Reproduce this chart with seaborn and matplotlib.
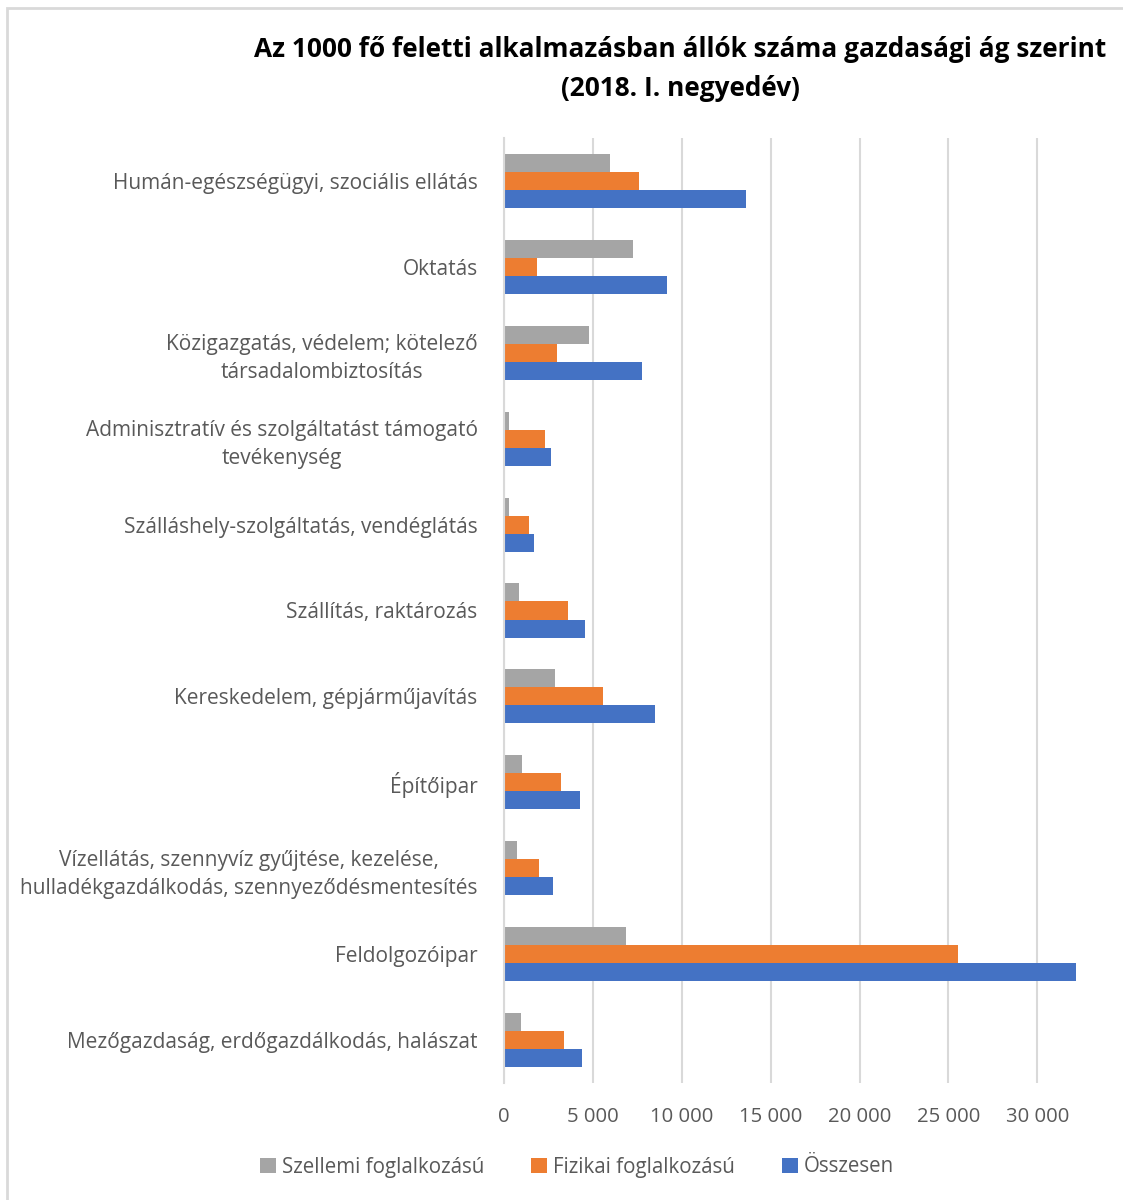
import matplotlib
matplotlib.use("Agg")
import matplotlib.pyplot as plt
import seaborn as sns
import pandas as pd
from matplotlib.patches import Rectangle, Patch

categories = [
    "Humán-egészségügyi, szociális ellátás",
    "Oktatás",
    "Közigazgatás, védelem; kötelező\ntársadalombiztosítás",
    "Adminisztratív és szolgáltatást támogató\ntevékenység",
    "Szálláshely-szolgáltatás, vendéglátás",
    "Szállítás, raktározás",
    "Kereskedelem, gépjárműjavítás",
    "Építőipar",
    "Vízellátás, szennyvíz gyűjtése, kezelése,\nhulladékgazdálkodás, szennyeződésmentesítés",
    "Feldolgozóipar",
    "Mezőgazdaság, erdőgazdálkodás, halászat",
]
szellemi = [5970, 7230, 4790, 260, 260, 860, 2890, 1000, 710, 6850, 960]
fizikai = [7570, 1880, 2970, 2310, 1410, 3610, 5560, 3230, 1970, 25540, 3360]
osszesen = [13620, 9150, 7790, 2630, 1710, 4540, 8490, 4280, 2740, 32170, 4360]
series_names = ["Szellemi foglalkozású", "Fizikai foglalkozású", "Összesen"]
colors = ["#A5A5A5", "#ED7D31", "#4472C4"]
xticks = [0, 5000, 10000, 15000, 20000, 25000, 30000]
xtick_labels = ["0", "5 000", "10 000", "15 000", "20 000", "25 000", "30 000"]

rows = []
for vals, name in zip([szellemi, fizikai, osszesen], series_names):
    for c, v in zip(categories, vals):
        rows.append({"cat": c, "series": name, "value": v})
df = pd.DataFrame(rows)

sns.set_style("white")
plt.rcParams["font.family"] = ["Open Sans", "DejaVu Sans"]
text_color = "#595959"

W, H = 1123, 1200
fig = plt.figure(figsize=(W / 100, H / 100), dpi=100)
ax = fig.add_axes([504 / W, 1 - 1083 / H, (1080 - 504) / W, (1083 - 138) / H])

sns.barplot(data=df, y="cat", x="value", hue="series", hue_order=series_names,
            order=categories, palette=colors, orient="h", width=0.63,
            saturation=1, ax=ax, legend=False, linewidth=0)

ax.set_xlim(0, 32400)
ax.set_ylim(len(categories) - 0.5, -0.5)
ax.set_xticks(xticks)
ax.set_xticklabels(xtick_labels)
ax.set_xlabel("")
ax.set_ylabel("")
ax.grid(axis="x", color="#D9D9D9", linewidth=1.5)
ax.set_axisbelow(True)
for s in ["top", "right", "bottom"]:
    ax.spines[s].set_visible(False)
ax.spines["left"].set_color("#D9D9D9")
ax.spines["left"].set_linewidth(1.5)
ax.tick_params(axis="x", length=0, labelsize=14.6, colors=text_color, pad=17)
ax.tick_params(axis="y", length=0, labelsize=15, colors=text_color, pad=19)
for lab in ax.get_yticklabels():
    lab.set_multialignment("center")
    lab.set_linespacing(1.45)

fig.text(680 / W, 1 - 69 / H,
         "Az 1000 fő feletti alkalmazásban állók száma gazdasági ág szerint\n(2018. I. negyedév)",
         ha="center", va="center", fontsize=18.9, fontweight="bold", color="black",
         linespacing=1.6)

handles = [Patch(facecolor=c, edgecolor="none") for c in colors]
fig.legend(handles, series_names, loc="center", bbox_to_anchor=(577 / W, 1 - 1167 / H),
           ncol=3, frameon=False, fontsize=14.8, handlelength=0.75, handleheight=0.75,
           handletextpad=0.3, columnspacing=2.3, labelcolor=text_color)

fig.patches.append(Rectangle((7 / W, -0.1), 1.2, 1 - 8 / H + 0.1, transform=fig.transFigure,
                             fill=False, edgecolor="#D9D9D9", linewidth=2))

fig.savefig("out.png", dpi=100)
